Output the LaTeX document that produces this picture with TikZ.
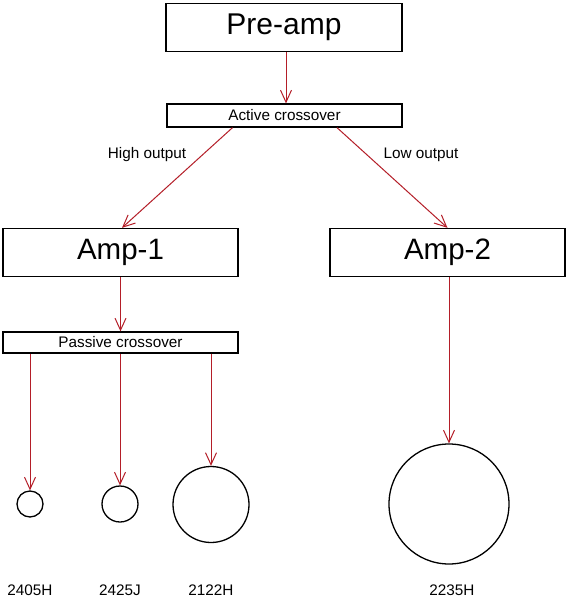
\documentclass[tikz,border=0pt]{standalone}
\usepackage{fontspec}
\setmainfont{Liberation Sans}
\usetikzlibrary{arrows.meta}
\definecolor{arrred}{RGB}{180,30,40}
\begin{document}
\begin{tikzpicture}[x=1pt,y=-1pt,
  box/.style={draw=black,line width=1.3pt,rectangle,inner sep=0pt,minimum width=235pt},
  bigbox/.style={box,minimum height=48pt,font=\fontsize{29.5}{32}\selectfont},
  smallbox/.style={box,font=\fontsize{15.3}{17}\selectfont},
  spk/.style={draw=black,line width=1.3pt,circle,inner sep=0pt},
  lbl/.style={inner sep=0pt,font=\fontsize{15.3}{17}\selectfont},
  conn/.style={draw=arrred,line width=1pt,-{Straight Barb[length=12pt,width=11pt,line width=1pt]}}]
\fill[white] (0,0) rectangle (569,600);
\useasboundingbox (0,0) rectangle (569,600);
% boxes
\node[bigbox,minimum width=236pt,font=\fontsize{30}{32}\selectfont] (pre) at (284,27.5) {Pre-amp};
\node[smallbox,minimum height=23pt] (ac) at (284.5,115.5) {Active crossover};
\node[bigbox] (amp1) at (120.5,252.5) {Amp-1};
\node[bigbox] (amp2) at (447.5,252.5) {Amp-2};
\node[smallbox,minimum height=21pt] (pc) at (120.5,342.5) {Passive crossover};
% speakers
\node[spk,minimum size=26pt] (s1) at (30,504) {};
\node[spk,minimum size=36pt] (s2) at (120,504) {};
\node[spk,minimum size=76pt] (s3) at (211,504.5) {};
\node[spk,minimum size=120pt] (s4) at (449,504) {};
% labels
\node[lbl] (hi) at (147,155) {High output};
\node[lbl] (lo) at (421,155) {Low output};
\node[lbl] (l1) at (30,590) {2405H};
\node[lbl] (l2) at (120,590) {2425J};
\node[lbl] (l3) at (211,590) {2122H};
\node[lbl] (l4) at (452,590) {2235H};
% connectors
\draw[conn] ([xshift=2pt]pre.south) -- ([xshift=1.5pt]ac.north);
\draw[conn] ([xshift=-52pt]ac.south) -- ([xshift=1.5pt]amp1.north);
\draw[conn] ([xshift=52.5pt]ac.south) -- (amp2.north);
\draw[conn] (amp1.south) -- (pc.north);
\draw[conn] (pc.south -| s1.north) -- (s1.north);
\draw[conn] (pc.south -| s2.north) -- (s2.north);
\draw[conn] (pc.south -| s3.north) -- (s3.north);
\draw[conn] (amp2.south -| s4.north) -- (s4.north);
\end{tikzpicture}
\end{document}
